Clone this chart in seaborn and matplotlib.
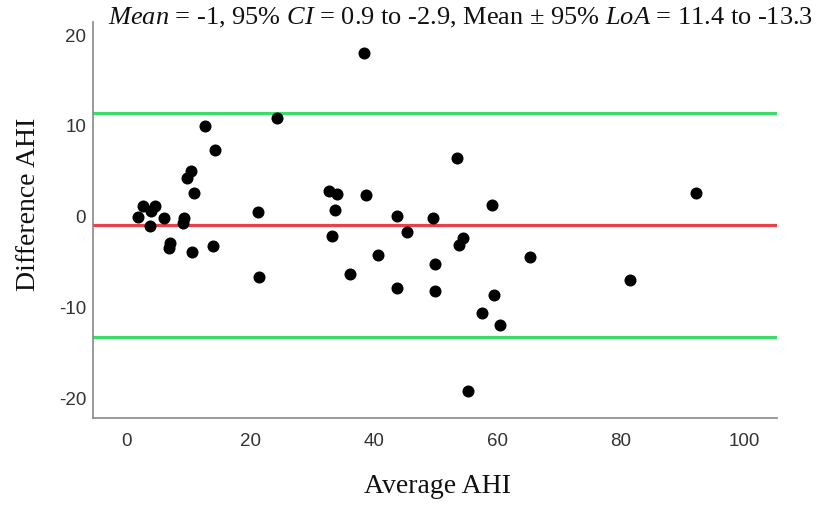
import matplotlib
matplotlib.use("Agg")
import matplotlib.pyplot as plt
import seaborn as sns
import pandas as pd

# Data
average_ahi = [1.8, 2.6, 4.6, 3.9, 3.8, 6.0, 9.2, 9.1, 7.0, 6.8, 10.6, 10.9, 9.8, 10.4,
               12.6, 14.3, 14.0, 24.3, 21.2, 21.4, 38.4, 32.8, 34.0, 38.8, 33.7, 33.2,
               36.1, 40.6, 43.7, 43.7, 45.3, 49.5, 49.9, 49.9, 53.4, 54.5, 53.8, 55.3,
               57.5, 59.1, 59.5, 60.5, 65.3, 81.5, 92.1]
difference_ahi = [0.0, 1.2, 1.2, 0.6, -1.0, -0.1, -0.1, -0.7, -2.95, -3.4, -3.9, 2.6, 4.3, 5.0,
                  10.0, 7.3, -3.2, 10.9, 0.5, -6.7, 18.1, 2.8, 2.5, 2.4, 0.7, -2.1,
                  -6.3, -4.2, 0.05, -7.9, -1.7, -0.1, -5.2, -8.2, 6.5, -2.3, -3.1, -19.2,
                  -10.6, 1.3, -8.6, -12.0, -4.4, -7.0, 2.6]
mean_diff = -0.95
loa_upper = 11.4
loa_lower = -13.3
x_ticks = [0, 20, 40, 60, 80, 100]
y_ticks = [-20, -10, 0, 10, 20]
title_text = (r"$\it{Mean}$ = -1, 95% $\it{CI}$ = 0.9 to -2.9, Mean ± 95% "
              r"$\it{LoA}$ = 11.4 to -13.3")

df = pd.DataFrame({"avg": average_ahi, "diff": difference_ahi})

sns.set_theme(style="white")
plt.rcParams["mathtext.fontset"] = "custom"
plt.rcParams["mathtext.rm"] = "Liberation Serif"
plt.rcParams["mathtext.it"] = "Liberation Serif:italic"
plt.rcParams["axes.unicode_minus"] = False

fig = plt.figure(figsize=(8.2, 5.05), dpi=100)
ax = fig.add_axes([0.1134, 0.1723, 0.8342, 0.7847])

ax.axhline(loa_upper, color="#3ddc6a", lw=2.3, zorder=1)
ax.axhline(loa_lower, color="#3ddc6a", lw=2.3, zorder=1)
ax.axhline(mean_diff, color="#e8414a", lw=2.3, zorder=1)

sns.scatterplot(data=df, x="avg", y="diff", ax=ax, color="black", s=75,
                edgecolor="black", linewidth=0, zorder=3)

ax.set_xlim(-5.5, 105.3)
ax.set_ylim(-22.2, 21.5)
ax.set_xticks(x_ticks)
ax.set_yticks(y_ticks)

tick_font = ["Liberation Sans Narrow", "Liberation Sans", "DejaVu Sans"]
for lab in ax.get_xticklabels() + ax.get_yticklabels():
    lab.set_family(tick_font)
    lab.set_fontsize(13.5)
    lab.set_color("#333333")
ax.tick_params(axis="both", length=0)
ax.tick_params(axis="x", pad=11)
ax.tick_params(axis="y", pad=5)

for side in ["top", "right"]:
    ax.spines[side].set_visible(False)
for side in ["left", "bottom"]:
    ax.spines[side].set_color("#888888")
    ax.spines[side].set_linewidth(1.2)

ax.set_xlabel("Average AHI", family="Liberation Serif", fontsize=20, color="#111111")
ax.set_ylabel("Difference AHI", family="Liberation Serif", fontsize=20, color="#111111")
ax.xaxis.label.set_va("center")
ax.yaxis.label.set_va("center")
ax.xaxis.set_label_coords(0.504, -0.174)
ax.yaxis.set_label_coords(-0.095, 0.54)

fig.text(0.561, 0.964, title_text, ha="center", va="center",
         family="Liberation Serif", fontsize=19, color="#111111")

fig.savefig("out.png", dpi=100, facecolor="white")
